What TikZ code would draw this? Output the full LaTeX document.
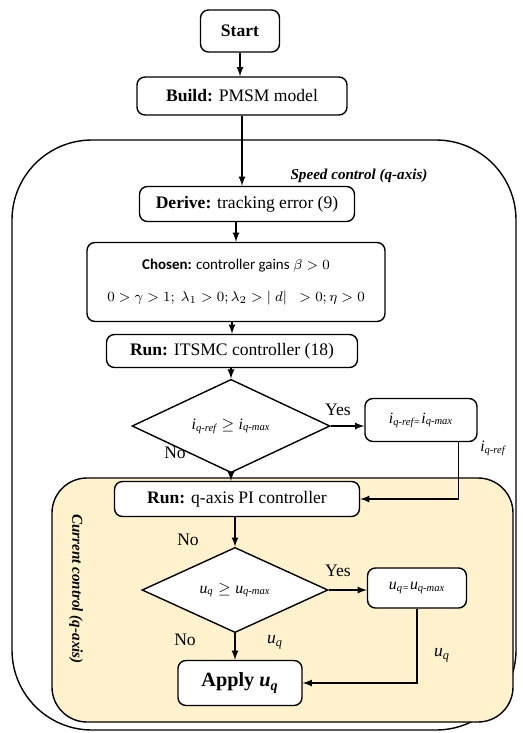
\documentclass[tikz,border=0pt]{standalone}
\usepackage{amsmath,amssymb}
\usepackage{fontspec}
\setmainfont{Liberation Serif}
\newfontfamily\calibri{Carlito}
\usetikzlibrary{shapes,arrows,positioning,backgrounds}
\definecolor{paleyellow}{RGB}{255,242,204}
\tikzset{%
	stepbox/.style={rectangle, rounded corners=4.5pt, draw=black, thick, fill=white, align=center},
	decide/.style={diamond, draw=black, thick, fill=white, inner sep=0pt, font=\small},
	pt/.style={draw=black, thick,->,>=latex},
	lbl/.style={inner sep=1pt},
	zone/.style={font=\fontsize{8.6}{10}\selectfont\bfseries\itshape}
}
\newcommand{\sig}[2]{\textit{#1}_{\textit{#2}}}

\begin{document}
\begin{tikzpicture}[x=0.02cm, y=-0.02cm]
		\useasboundingbox (0,0) rectangle (522,733);
		
		% frames
		\draw[thick, rounded corners=1.6cm] (12,140) rectangle (516,730);
		\draw[thick, fill=paleyellow, rounded corners=0.7cm] (52,478) rectangle (513,722);
		\node[zone] (speed) at (359,176) {Speed control (q-axis)};
		\node[zone, rotate=-90] (current) at (76,589) {Current control (q-axis)};
		
		\node[stepbox, minimum width=1.58cm, minimum height=0.84cm] (start) at (240,31) {\textbf{Start}};
		\node[stepbox, minimum width=4.2cm, minimum height=0.76cm] (build) at (242,96) {\textbf{Build:} PMSM model};
		\node[stepbox, minimum width=4.3cm, minimum height=0.7cm] (derive) at (247,204) {\textbf{Derive:} tracking error (9)};
		\node[stepbox, minimum width=5.96cm, minimum height=1.58cm, font=\fontsize{8.5}{10}\selectfont] (chosen) at (236,282) {{\calibri\textbf{Chosen:} controller gains} $\beta>0$\\[8pt] $0>\gamma>1;\ \lambda_1>0;\lambda_2>|\;d|\;\;>0;\eta>0$};
		\node[stepbox, minimum width=5.02cm, minimum height=0.66cm] (runsmc) at (232,351) {\textbf{Run:} ITSMC controller (18)};
		\node[decide, minimum width=3.96cm, minimum height=1.38cm] (limiq) at (231,426) {$\sig{i}{q-ref}\geq\sig{i}{q-max}$};
		\node[stepbox, minimum width=2.24cm, minimum height=0.86cm, font=\small] (satiq) at (421,420) {$\sig{i}{q-ref=}\sig{i}{q-max}$};
		\node[stepbox, minimum width=4.9cm, minimum height=0.7cm] (runpi) at (237,499) {\textbf{Run:} q-axis PI controller};
		\node[decide, minimum width=3.72cm, minimum height=1.38cm] (limuq) at (235,590) {$\sig{u}{q}\geq\sig{u}{q-max}$};
		\node[stepbox, minimum width=1.98cm, minimum height=0.8cm, font=\small] (satuq) at (417,588) {$\sig{u}{q=}\sig{u}{q-max}$};
		\node[stepbox, minimum width=2.48cm, minimum height=0.9cm, font=\fontsize{11.5}{13}\selectfont\bfseries] (apply) at (240,683) {Apply $\sig{u}{q}$};
		
		\draw[pt] (start.south) -- (start.south |- build.north);
		\draw[pt] (build.south) -- (build.south |- derive.north);
		\draw[pt] (chosen.north |- derive.south) -- (chosen.north);
		\draw[pt] (runsmc.north |- chosen.south) -- (runsmc.north);
		\draw[pt] (limiq.north |- runsmc.south) -- (limiq.north);
		\draw[pt] (limiq.east) -- (limiq.east -| satiq.west);
		\draw[pt] (limiq.south) -- (limiq.south |- runpi.north);
		\draw[pt] ([xshift=-0.38cm]satiq.south east) |- (runpi.east);
		\draw[pt] (limuq.north |- runpi.south) -- (limuq.north);
		\draw[pt] (limuq.east) -- (limuq.east -| satuq.west);
		\draw[pt] (limuq.south) -- (limuq.south |- apply.north);
		\draw[pt] (satuq.south) |- (apply.east);
		
		% connector labels
		\node[lbl] (yes1) at (338,410) {Yes};
		\node[lbl] (no1) at (175,453) {No};
		\node[lbl, font=\small] (iqref) at (493,448) {$\sig{i}{q-ref}$};
		\node[lbl] (no2) at (188,540) {No};
		\node[lbl] (yes2) at (338,571) {Yes};
		\node[lbl] (no3) at (185,640) {No};
		\node[lbl] (uq1) at (275,642) {$\sig{u}{q}$};
		\node[lbl] (uq2) at (442,655) {$\sig{u}{q}$};
	\end{tikzpicture}
\end{document}
